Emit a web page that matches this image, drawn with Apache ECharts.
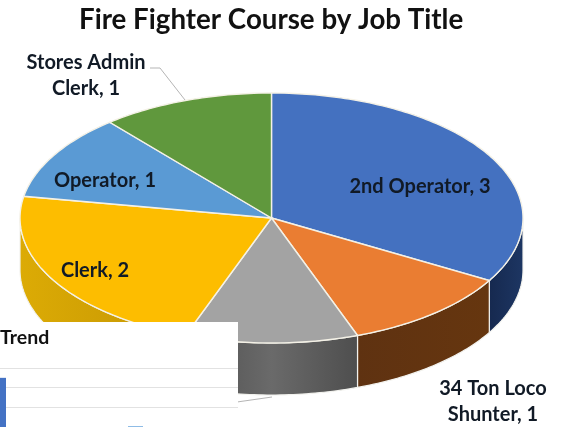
<!DOCTYPE html>
<html>
<head>
<meta charset="utf-8">
<style>html,body{margin:0;padding:0;background:#fff}#main{width:569px;height:427px}</style>
<script src="https://cdn.jsdelivr.net/npm/echarts@6/dist/echarts.min.js"></script>
</head>
<body>
<div id="main"></div>
<script>
// 饼图数据 (grey slice label is hidden behind the pasted chart)
var jobTitles = ['2nd Operator', '34 Ton Loco Shunter', '', 'Clerk', 'Operator', 'Stores Admin Clerk'];
var counts = [3, 1, 1, 2, 1, 1];

// the Trend chart pasted over the corner, only its top shows
var trendPeriods = [1, 2, 3, 4];
var trendValues = [75, null, 50.5, null];

var topColors = ['#4471c0', '#ea7d32', '#a3a3a3', '#fdbd00', '#5a9ad4', '#60983d'];
var wallColors = [
  ['#16294f', '#1d3663'],
  ['#5f3211', '#66360f'],
  ['#4d4d4d', '#6a6a6a', '#4e4e4e'],
  ['#dcab05', '#c49503'],
  ['#888888', '#888888'],
  ['#888888', '#888888']
];
var labelLayout = [
  { x: 420, y: 187, text: '2nd Operator, 3' },
  { x: 493, y: 402, text: '34 Ton Loco\nShunter, 1' },
  null,
  { x: 95, y: 271, text: 'Clerk, 2' },
  { x: 105, y: 181, text: 'Operator, 1' },
  { x: 86, y: 76, text: 'Stores Admin\nClerk, 1' }
];
var DEPTH = 0.416;

var myChart = echarts.init(document.getElementById('main'));
var total = counts.reduce(function (a, b) { return a + b; }, 0);

function rim(api, deg, drop) {
  var a = deg * Math.PI / 180;
  return api.coord([Math.sin(a), Math.cos(a) - drop]);
}

function renderSlice(params, api) {
  var i = params.dataIndex;
  var before = 0;
  for (var k = 0; k < i; k++) before += counts[k];
  var from = before / total * 360;
  var to = from + api.value(1) / total * 360;
  var children = [];

  // side wall, only the part of the rim facing us
  var wFrom = Math.max(from, 90), wTo = Math.min(to, 270);
  if (wTo > wFrom) {
    var pts = [], d;
    for (d = wFrom; d <= wTo; d += 1) pts.push(rim(api, d, 0));
    pts.push(rim(api, wTo, 0));
    pts.push(rim(api, wTo, DEPTH));
    for (d = wTo; d >= wFrom; d -= 1) pts.push(rim(api, d, DEPTH));
    pts.push(rim(api, wFrom, DEPTH));
    var stops = wallColors[i].map(function (c, n, arr) {
      return { offset: n / (arr.length - 1), color: c };
    });
    children.push({
      type: 'polygon',
      shape: { points: pts },
      style: {
        fill: new echarts.graphic.LinearGradient(0, 0, 1, 0, stops),
        stroke: '#f2f2ee',
        lineWidth: 1.2
      }
    });
  }

  // top face
  var face = [api.coord([0, 0])];
  for (var t = from; t <= to; t += 1) face.push(rim(api, t, 0));
  children.push({
    type: 'polygon',
    z2: 5,
    shape: { points: face },
    style: { fill: topColors[i], stroke: '#f4f1e6', lineWidth: 1.4 }
  });

  if (labelLayout[i]) {
    children.push({
      type: 'text',
      z2: 20,
      style: {
        text: labelLayout[i].text,
        x: labelLayout[i].x,
        y: labelLayout[i].y,
        align: 'center',
        verticalAlign: 'middle',
        font: 'bold 20px Lato',
        lineHeight: 26,
        fill: '#111a26'
      }
    });
  }
  return { type: 'group', children: children };
}

var option = {
  animation: false,
  backgroundColor: '#fff',
  title: [
    {
      text: 'Fire Fighter Course by Job Title',
      left: 79,
      top: 6,
      padding: 0,
      textStyle: { fontFamily: 'Lato', fontWeight: 'bold', fontSize: 27.7, color: '#111' }
    },
    {
      text: 'Trend',
      left: 0,
      top: 328,
      padding: 0,
      z: 8,
      textStyle: { fontFamily: 'Lato', fontWeight: 'bold', fontSize: 19.5, color: '#111' }
    }
  ],
  grid: [
    { left: 20, top: 93, width: 503, height: 250 },
    { left: 0, top: 368, width: 238, height: 59 }
  ],
  xAxis: [
    { type: 'value', min: -1, max: 1, show: false },
    {
      type: 'value', gridIndex: 1, min: 1.022, max: 4.496, z: 8,
      splitLine: { show: false },
      axisLine: { show: false }, axisTick: { show: false }, axisLabel: { show: false }
    }
  ],
  yAxis: [
    { type: 'value', min: -1, max: 1, show: false },
    {
      type: 'value', gridIndex: 1, min: 50, max: 80, interval: 10, z: 8,
      axisLabel: { show: false }, axisLine: { show: false }, axisTick: { show: false },
      splitLine: { lineStyle: { color: '#e2e2e2', width: 1 } }
    }
  ],
  graphic: [
    {
      // stores leader, and the start of the hidden grey slice's leader
      type: 'polyline', z: 3, silent: true,
      shape: { points: [[150, 68], [160, 68], [185, 100]] },
      style: { stroke: '#b5b5b5', lineWidth: 1, fill: 'none' }
    },
    {
      type: 'line', z: 3, silent: true,
      shape: { x1: 230, y1: 403, x2: 272, y2: 397 },
      style: { stroke: '#b5b5b5', lineWidth: 1 }
    },
    {
      type: 'rect', z: 5, silent: true,
      shape: { x: 0, y: 322, width: 238, height: 105 },
      style: { fill: '#fff' }
    }
  ],
  series: [
    {
      type: 'custom',
      z: 1,
      silent: true,
      xAxisIndex: 0,
      yAxisIndex: 0,
      renderItem: renderSlice,
      data: counts.map(function (c, i) { return [i, c]; })
    },
    {
      type: 'bar',
      z: 9,
      silent: true,
      xAxisIndex: 1,
      yAxisIndex: 1,
      barWidth: 15,
      data: trendValues.map(function (v, i) {
        return { value: [trendPeriods[i], v], itemStyle: { color: i === 0 ? '#4472c4' : '#8fbce6' } };
      })
    }
  ]
};

myChart.setOption(option);
</script>
</body>
</html>
